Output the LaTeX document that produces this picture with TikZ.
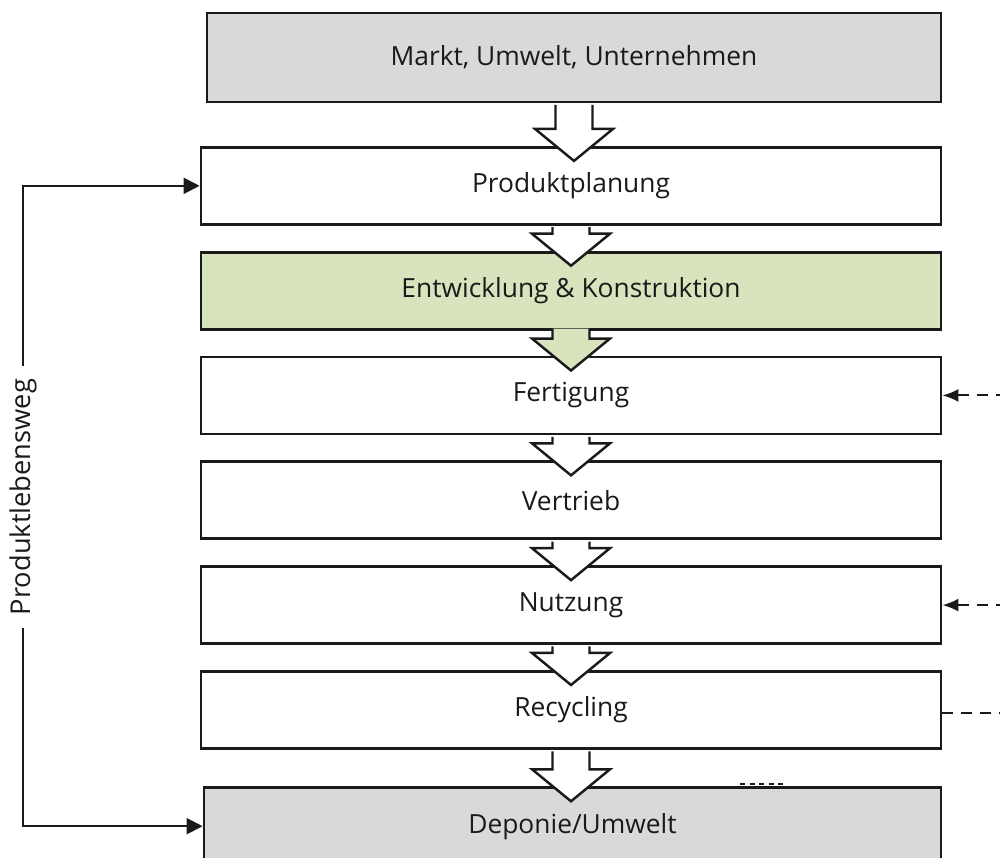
\documentclass[tikz,border=0pt]{standalone}
\usepackage{fontspec}
\setmainfont{Open Sans}
\usetikzlibrary{positioning,arrows.meta,calc}
\definecolor{boxgray}{HTML}{D9D9D9}
\definecolor{boxgreen}{HTML}{D7E4BD}
\definecolor{ink}{HTML}{1A1A1A}

\begin{document}
\begin{tikzpicture}[
  stage/.style={draw=ink, line width=1.6pt, minimum width=14.8cm,
                minimum height=1.54cm, inner sep=0pt, text=ink,
                font=\fontsize{15}{18}\selectfont},
  flow/.style={draw=ink, line width=1.4pt, line join=miter},
  feed/.style={line width=1.2pt, draw=ink, dash pattern=on 2.2mm off 1.6mm},
  life/.style={-{Triangle[length=3.2mm,width=3.2mm]}, line width=1.2pt,
               draw=ink}]
  \useasboundingbox (0,0) rectangle (20,-17.14);
  \node[stage, fill=boxgray, minimum width=14.68cm, minimum height=1.78cm]
    (markt) at (11.48,-1.15) {Markt, Umwelt, Unternehmen};
  \node[stage, below=8.5mm of markt, xshift=-0.6mm] (plan) {Produktplanung};
  \node[stage, fill=boxgreen, below=5mm of plan] (entw)
    {Entwicklung \& Konstruktion};
  \node[stage, below=5mm of entw] (fert) {Fertigung};
  \node[stage, below=5mm of fert] (vert) {Vertrieb};
  \node[stage, below=5mm of vert] (nutz) {Nutzung};
  \node[stage, below=5mm of nutz] (recy) {Recycling};
  \node[stage, fill=boxgray, minimum width=14.74cm, below=7.3mm of recy,
        xshift=0.3mm] (depo) {Deponie/Umwelt};
  % block arrows between the stages
  \foreach \a/\b/\c/\o in {markt/plan/white/-0.3mm, plan/entw/white/-0.3mm,
      entw/fert/boxgreen/0.4mm, fert/vert/white/-0.3mm,
      vert/nutz/white/-0.3mm, nutz/recy/white/-0.3mm,
      recy/depo/white/-0.3mm}
    {\coordinate (tip) at ($(\a.south |- \b.north)+(0,-3mm)$);
     \draw[flow, fill=\c] ($(\a.south)+(-3.7mm,\o)$)
       -- ($(tip)+(-3.7mm,6.4mm)$) -- ($(tip)+(-7.8mm,6.4mm)$) -- (tip)
       -- ($(tip)+(7.8mm,6.4mm)$) -- ($(tip)+(3.7mm,6.4mm)$)
       -- ($(\a.south)+(3.7mm,\o)$);}
  % life cycle loop
  \node[rotate=90, text=ink, inner sep=2.6mm, font=\fontsize{15.5}{18}\selectfont]
    (weg) at (0.46,-9.94) {Produktlebensweg};
  \draw[life] (weg.east) |- (plan.west);
  \draw[life] (weg.west) |- (depo.west);
  % feedback from the right
  \coordinate (fertsrc) at ($(fert.east)+(1.3,0)$);
  \coordinate (nutzsrc) at ($(nutz.east)+(1.3,0)$);
  \coordinate (recydst) at ($(recy.east)+(1.3,-0.06)$);
  \draw[feed, -{Latex[length=3.2mm,width=2.6mm]}] (fertsrc) -- (fert.east);
  \draw[feed, -{Latex[length=3.2mm,width=2.6mm]}] (nutzsrc) -- (nutz.east);
  \draw[feed] ($(recy.east)+(0,-0.06)$) -- (recydst);
  \coordinate (stubl) at ($(depo.north)+(3.35,0.05)$);
  \coordinate (stubr) at ($(depo.north)+(4.29,0.05)$);
  \draw[ink, line width=1.1pt, dash pattern=on 1mm off 0.9mm] (stubl) -- (stubr);
\end{tikzpicture}
\end{document}
